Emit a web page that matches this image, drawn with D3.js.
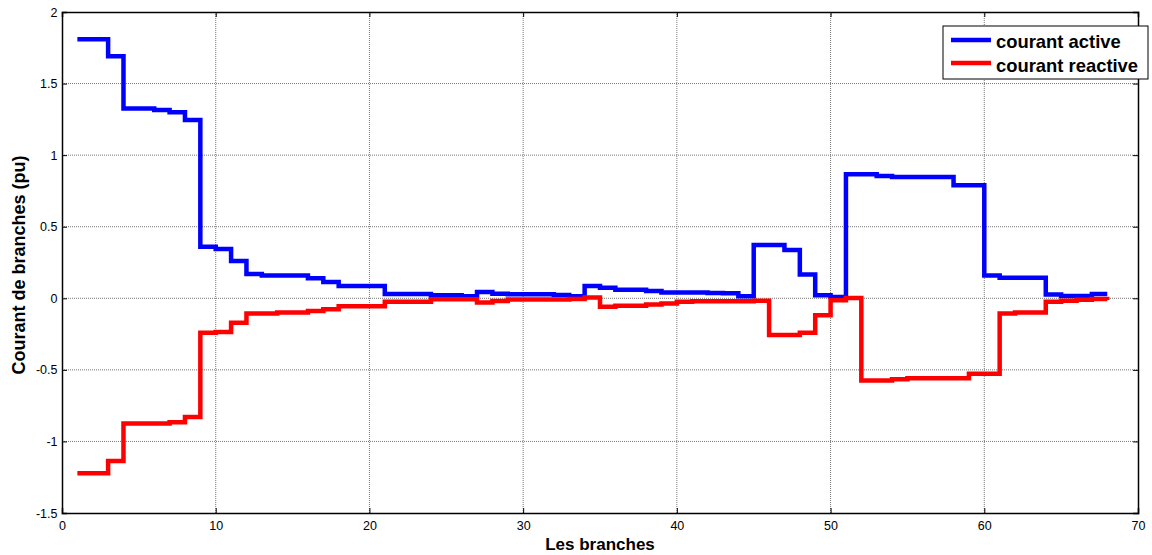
<!DOCTYPE html>
<html>
<head>
<meta charset="utf-8">
<script src="https://cdn.jsdelivr.net/npm/d3@7"></script>
<style>
body { margin: 0; background: #fff; }
text { font-family: "Liberation Sans", Arial, sans-serif; }
</style>
</head>
<body>
<script>
// branch currents (pu), branches 1..68
var branches = d3.range(1, 69);
var courantActive = [
  1.81, 1.81, 1.69, 1.325, 1.325, 1.315, 1.30, 1.245, 0.36, 0.345,
  0.26, 0.17, 0.16, 0.16, 0.16, 0.14, 0.113, 0.085, 0.085, 0.085,
  0.03, 0.03, 0.03, 0.021, 0.021, 0.014, 0.044, 0.032, 0.028, 0.028,
  0.028, 0.023, 0.014, 0.085, 0.074, 0.06, 0.06, 0.051, 0.04, 0.04,
  0.04, 0.037, 0.035, 0.014, 0.373, 0.373, 0.338, 0.167, 0.021, 0.009,
  0.866, 0.866, 0.854, 0.847, 0.847, 0.847, 0.847, 0.79, 0.79, 0.16,
  0.144, 0.144, 0.144, 0.026, 0.016, 0.016, 0.03, 0.03
];
var courantReactive = [
  -1.222, -1.222, -1.137, -0.875, -0.875, -0.875, -0.866, -0.829, -0.241, -0.235,
  -0.171, -0.106, -0.106, -0.1, -0.1, -0.088, -0.076, -0.056, -0.056, -0.056,
  -0.025, -0.025, -0.025, -0.007, -0.007, -0.007, -0.03, -0.019, -0.009, -0.009,
  -0.009, -0.009, -0.005, 0.005, -0.06, -0.053, -0.053, -0.044, -0.037, -0.025,
  -0.02, -0.02, -0.02, -0.02, -0.018, -0.257, -0.257, -0.241, -0.118, -0.014,
  0.002, -0.574, -0.574, -0.565, -0.558, -0.558, -0.558, -0.558, -0.528, -0.528,
  -0.106, -0.1, -0.1, -0.025, -0.017, -0.01, -0.005, -0.012
];
var xTicks = [0, 10, 20, 30, 40, 50, 60, 70];
var yTicks = [-1.5, -1, -0.5, 0, 0.5, 1, 1.5, 2];
var seriesNames = ["courant active", "courant reactive"];
var seriesColors = ["#0000ff", "#ff0000"];

var margin = { top: 12, right: 14, bottom: 42, left: 62 },
    width = 1152 - margin.left - margin.right,
    height = 555 - margin.top - margin.bottom;

var svg = d3.select("body").append("svg")
    .attr("width", 1152)
    .attr("height", 555)
    .append("g")
    .attr("transform", "translate(" + margin.left + "," + margin.top + ")");

var x = d3.scaleLinear().domain([0, 70]).range([0, width]);
var y = d3.scaleLinear().domain([-1.5, 2]).range([height, 0]);

// grid lines
svg.selectAll(".vgrid")
    .data(xTicks.slice(1, -1))
    .enter().append("line")
    .attr("x1", function(d) { return x(d); })
    .attr("x2", function(d) { return x(d); })
    .attr("y1", 0).attr("y2", height)
    .attr("stroke", "#777").attr("stroke-width", 1)
    .attr("stroke-dasharray", "1,1");
svg.selectAll(".hgrid")
    .data(yTicks.slice(1, -1))
    .enter().append("line")
    .attr("x1", 0).attr("x2", width)
    .attr("y1", function(d) { return y(d); })
    .attr("y2", function(d) { return y(d); })
    .attr("stroke", "#777").attr("stroke-width", 1)
    .attr("stroke-dasharray", "1,1");

// stairs lines
var line = d3.line()
    .x(function(d) { return x(d[0]); })
    .y(function(d) { return y(d[1]); })
    .curve(d3.curveStepAfter);

[courantActive, courantReactive].forEach(function(vals, i) {
    svg.append("path")
        .datum(branches.map(function(b, j) { return [b, vals[j]]; }))
        .attr("fill", "none")
        .attr("stroke", seriesColors[i])
        .attr("stroke-width", 4.5)
        .attr("stroke-linejoin", "miter")
        .attr("d", line);
});

// axes with inward ticks
svg.append("g").attr("transform", "translate(0," + height + ")")
    .call(d3.axisBottom(x).tickValues(xTicks).tickSize(-5).tickPadding(8).tickFormat(d3.format("d")));
svg.append("g")
    .call(d3.axisLeft(y).tickValues(yTicks).tickSize(-5).tickPadding(4.5).tickFormat(function(d) { return d; }));
svg.append("g")
    .call(d3.axisTop(x).tickValues(xTicks).tickSize(-5).tickFormat(""));
svg.append("g").attr("transform", "translate(" + width + ",0)")
    .call(d3.axisRight(y).tickValues(yTicks).tickSize(-5).tickFormat(""));

svg.selectAll(".domain").attr("stroke", "#000").attr("stroke-width", 1.5);
svg.selectAll(".tick line").attr("stroke", "#000");
svg.selectAll(".tick text").style("font-size", "12.5px").attr("fill", "#000")
    .style("font-family", "'Liberation Sans', Arial, sans-serif");

// axis labels
svg.append("text")
    .attr("x", width / 2)
    .attr("y", height + 37)
    .attr("text-anchor", "middle")
    .style("font-size", "17px")
    .style("font-weight", "bold")
    .text("Les branches");
svg.append("text")
    .attr("transform", "rotate(-90)")
    .attr("x", -(265 - margin.top))
    .attr("y", -37.5)
    .attr("text-anchor", "middle")
    .style("font-size", "18px")
    .style("font-weight", "bold")
    .text("Courant de branches (pu)");

// legend
var legend = svg.append("g").attr("transform", "translate(" + (943 - margin.left) + "," + (26 - margin.top) + ")");
legend.append("rect")
    .attr("width", 205).attr("height", 53)
    .attr("fill", "#fff").attr("stroke", "#000").attr("stroke-width", 1);
seriesNames.forEach(function(name, i) {
    legend.append("line")
        .attr("x1", 8).attr("x2", 48)
        .attr("y1", 14 + i * 23).attr("y2", 14 + i * 23)
        .attr("stroke", seriesColors[i]).attr("stroke-width", 4.5);
    legend.append("text")
        .attr("x", 53).attr("y", 21.5 + i * 24)
        .style("font-size", "18.4px")
        .style("font-weight", "bold")
        .text(name);
});
</script>
</body>
</html>
